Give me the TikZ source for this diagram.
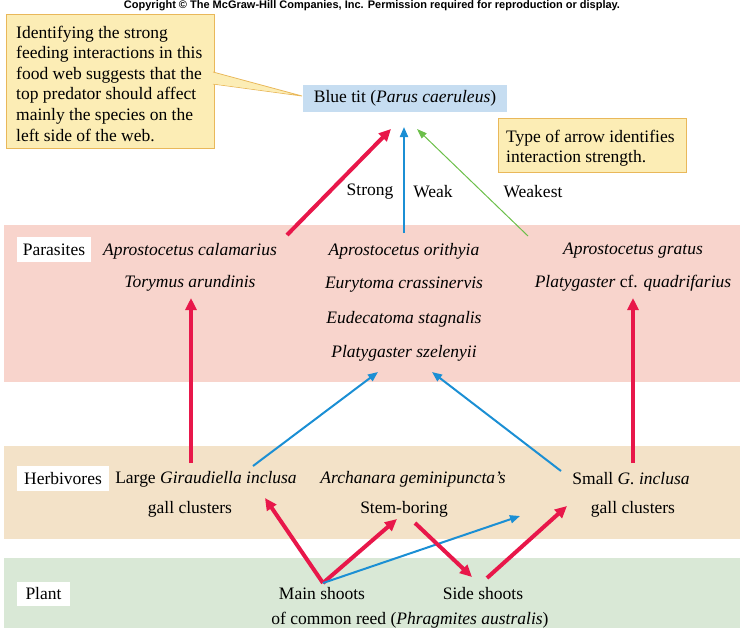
\documentclass[tikz,border=0pt]{standalone}
\usepackage{fontspec}
\setmainfont{Liberation Serif}
\newfontfamily\cpfont{Liberation Sans}
\usetikzlibrary{arrows.meta}
\definecolor{cred}{HTML}{E8174A}
\definecolor{cblue}{HTML}{1B8FD4}
\definecolor{cgreen}{HTML}{6CBF4A}
\definecolor{cyel}{HTML}{FCEDB5}
\definecolor{cyelb}{HTML}{E9B85A}
\definecolor{cbt}{HTML}{C6DDF1}
\definecolor{cpar}{HTML}{F8D4CC}
\definecolor{cherb}{HTML}{F3E2C8}
\definecolor{cplant}{HTML}{D9E8D6}
\tikzset{
  txt/.style={font=\fontsize{17.5}{20}\selectfont, inner sep=0pt, anchor=center},
  lbl/.style={font=\fontsize{17.5}{20}\selectfont, fill=white, inner sep=0pt},
  strong/.style={draw=cred, line width=4pt, -{Triangle[length=12pt,width=11pt]}},
  weak/.style={draw=cblue, line width=2pt, -{Triangle[length=10pt,width=8pt]}},
  weakest/.style={draw=cgreen, line width=1pt, -{Triangle[length=10pt,width=7pt]}},
}
\begin{document}
\begin{tikzpicture}[x=1pt,y=-1pt]
\useasboundingbox (0,0) rectangle (745,633);
% copyright
\node[font=\cpfont\bfseries\fontsize{11}{12}\selectfont, inner sep=0pt] (copy) at (372,6) {Copyright \textcopyright\ The McGraw-Hill Companies, Inc. Permission required for reproduction or display.};
% bands
\fill[cpar] (4,225) rectangle (740,382);
\fill[cherb] (4,446) rectangle (740,539);
\fill[cplant] (4,558) rectangle (740,628);
% labels
\node[lbl, minimum width=74pt, minimum height=25pt] (lpar) at (54,249.5) {Parasites};
\node[lbl, minimum width=92pt, minimum height=25pt] (lherb) at (63,478.5) {Herbivores};
\node[lbl, minimum width=53pt, minimum height=24pt] (lplant) at (43.5,594) {Plant};
% callout
\node[draw=cyelb, fill=cyel, line width=0.8pt, minimum width=208pt, minimum height=134pt, inner sep=0pt] (call) at (110,81) {};
\coordinate (tipc) at (302,96);
\fill[cyel, draw=cyelb, line width=0.8pt] (213,72) -- (tipc) -- (213,84);
\fill[cyel] (212,72.5) -- (290,94) -- (212,83.5) -- cycle;
\node[txt, anchor=north west, align=left, font=\fontsize{17.5}{20.6}\selectfont] (calltxt) at (16,25.5) {Identifying the strong\\feeding interactions in this\\food web suggests that the\\top predator should affect\\mainly the species on the\\left side of the web.};
% blue tit
\node[fill=cbt, minimum width=204pt, minimum height=27pt, inner sep=0pt, font=\fontsize{17.5}{20}\selectfont] (bt) at (405,98.5) {Blue tit (\textit{Parus caeruleus})};
% type of arrow
\node[draw=cyelb, fill=cyel, line width=0.8pt, minimum width=188pt, minimum height=54pt, inner sep=0pt] (type) at (592,145) {};
\node[txt, anchor=north west, align=left, font=\fontsize{17.5}{20}\selectfont] (typetxt) at (506,129.5) {Type of arrow identifies\\interaction strength.};
% arrow labels
\node[txt] (ls) at (370,192) {Strong};
\node[txt] (lw) at (433,192) {Weak};
\node[txt] (lwt) at (533,192) {Weakest};
% parasites
\node[txt] (p1) at (190,251) {\textit{Aprostocetus calamarius}};
\node[txt] (p2) at (190,283) {\textit{Torymus arundinis}};
\node[txt] (p3) at (404,251) {\textit{Aprostocetus orithyia}};
\node[txt] (p4) at (404,285) {\textit{Eurytoma crassinervis}};
\node[txt] (p5) at (404,319) {\textit{Eudecatoma stagnalis}};
\node[txt] (p6) at (404,353) {\textit{Platygaster szelenyii}};
\node[txt] (p7) at (633,251) {\textit{Aprostocetus gratus}};
\node[txt] (p8) at (633,283) {\textit{Platygaster} cf. \textit{quadrifarius}};
% herbivores
\node[txt] (h1) at (206,479) {Large \textit{Giraudiella inclusa}};
\node[txt] (h2) at (190,509) {gall clusters};
\node[txt] (h3) at (413,479) {\textit{Archanara geminipuncta's}};
\node[txt] (h4) at (404,509) {Stem-boring};
\node[txt] (h5) at (631,479) {Small \textit{G. inclusa}};
\node[txt] (h6) at (633,509) {gall clusters};
% plant
\node[txt] (m) at (322,594) {Main shoots};
\node[txt] (s) at (483,594) {Side shoots};
\node[txt] (pl) at (410,620) {of common reed (\textit{Phragmites australis})};
% arrow coordinates
\coordinate (btA) at (391,129);
\coordinate (btB) at (404,127);
\coordinate (btC) at (417,129);
\coordinate (pA) at (287,235);
\coordinate (pB) at (404,233);
\coordinate (pC) at (528,236);
\coordinate (tA) at (191,298);
\coordinate (hA) at (191,463);
\coordinate (tC) at (633,298);
\coordinate (hC) at (633,463);
\coordinate (szA) at (378,372);
\coordinate (szB) at (432,372);
\coordinate (gA) at (253,466);
\coordinate (gC) at (561,471);
\coordinate (ms) at (323,583);
\coordinate (lgA) at (265,498);
\coordinate (stA) at (397,519);
\coordinate (smA) at (520,516);
\coordinate (stB) at (415,523);
\coordinate (ssA) at (472,577);
\coordinate (ssB) at (487,578);
\coordinate (smB) at (567,506);
% arrows
\draw[strong] (pA) -- (btA);
\draw[weak] (pB) -- (btB);
\draw[weakest] (pC) -- (btC);
\draw[strong] (hA) -- (tA);
\draw[strong] (hC) -- (tC);
\draw[weak] (gA) -- (szA);
\draw[weak] (gC) -- (szB);
\draw[strong] (ms) -- (lgA);
\draw[strong] (ms) -- (stA);
\draw[weak] (ms) -- (smA);
\draw[strong] (stB) -- (ssA);
\draw[strong] (ssB) -- (smB);
\end{tikzpicture}
\end{document}
